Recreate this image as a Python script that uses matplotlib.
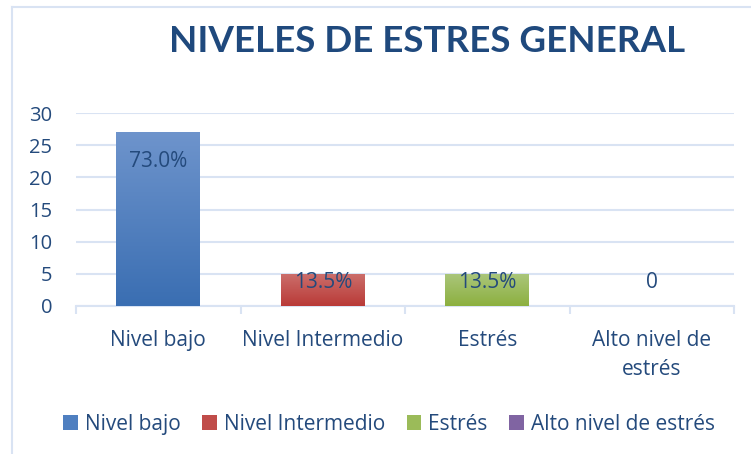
import numpy as np
import matplotlib.pyplot as plt
from matplotlib.lines import Line2D
from matplotlib.patches import Patch
from matplotlib.colors import LinearSegmentedColormap

'''Chart Data'''
categories = ['Nivel bajo', 'Nivel Intermedio', 'Estrés', 'Alto nivel de\nestrés']
legend_names = ['Nivel bajo', 'Nivel Intermedio', 'Estrés', 'Alto nivel de estrés']
values = [27, 5, 5, 0]
labels = ['73.0%', '13.5%', '13.5%', '0']
y_ticks = [0, 5, 10, 15, 20, 25, 30]

'''Styling'''
top_colors = ['#6E94CC', '#CC6F6C', '#ABC67C', '#9680B8']
bottom_colors = ['#3A6EB2', '#B93A37', '#8CB03F', '#7459A0']
legend_colors = ['#4F7FC0', '#C04C49', '#9BBB59', '#8064A2']
text_col = '#244A7C'
grid_col = '#D9E3F3'
plt.rcParams['font.family'] = ['Open Sans', 'DejaVu Sans']

fig = plt.figure(figsize=(7.51, 4.54), dpi=100)
ax = fig.add_axes([0.1012, 0.326, 0.8762, 0.425])

x = np.arange(len(categories))
bars = ax.bar(x, values, width=0.51, color='none', zorder=3)

'''Gradient Fill for each bar'''
grad = np.linspace(0, 1, 256).reshape(-1, 1)
for i, b in enumerate(bars):
    if values[i] <= 0:
        continue
    cmap = LinearSegmentedColormap.from_list('g%d' % i, [bottom_colors[i], top_colors[i]])
    x0, y0 = b.get_x(), b.get_y()
    img = ax.imshow(grad, cmap=cmap, aspect='auto', origin='lower',
                    extent=[x0, x0 + b.get_width(), y0, y0 + b.get_height()], zorder=3)
    img.set_clip_path(b)

'''Data Labels'''
for i, v in enumerate(values):
    ax.text(x[i], max(v - 4.5, 3.7), labels[i], ha='center', va='center',
            fontsize=15, color=text_col, zorder=4)

ax.set_xlim(-0.5, len(categories) - 0.5)
ax.set_ylim(0, 30)
ax.set_yticks(y_ticks)
ax.set_xticks(x)
ax.set_xticklabels(categories, linespacing=1.5)
ax.set_xticks(np.arange(-0.5, len(categories), 1), minor=True)
ax.grid(axis='y', color=grid_col, linewidth=1.5, zorder=0)
for s in ['top', 'right', 'left']:
    ax.spines[s].set_visible(False)
ax.spines['bottom'].set_color(grid_col)
ax.spines['bottom'].set_linewidth(1.5)
ax.tick_params(axis='y', length=0, pad=17, labelsize=14.5, labelcolor=text_col)
ax.tick_params(axis='x', which='major', length=0, pad=17, labelsize=15, labelcolor=text_col)
ax.tick_params(axis='x', which='minor', length=6, width=1.5, color=grid_col)

'''Title'''
fig.text(0.568, 1 - 52 / 454, 'NIVELES DE ESTRES GENERAL', ha='center', va='baseline',
         fontsize=26.5, fontweight='bold', color='#1F497D', family='Lato')

'''Legend'''
handles = [Patch(facecolor=c, edgecolor='none') for c in legend_colors]
fig.legend(handles, legend_names, loc='center', bbox_to_anchor=(0.518, 0.066), ncol=4,
           frameon=False, fontsize=15, labelcolor=text_col, handlelength=0.7,
           handleheight=0.7, handletextpad=0.33, columnspacing=1.05)

'''Chart Frame'''
fig.add_artist(Line2D([12 / 751, 12 / 751], [0, 1 - 7 / 454], color=grid_col, lw=1.5))
fig.add_artist(Line2D([12 / 751, 1], [1 - 7 / 454, 1 - 7 / 454], color=grid_col, lw=1.5))

plt.savefig('out.png', dpi=100)
